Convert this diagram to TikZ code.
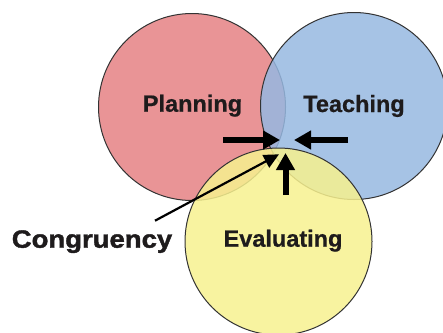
\documentclass[tikz,border=0pt]{standalone}
\usepackage{fontspec}
\setmainfont{Liberation Sans}
\newfontfamily\labelfont{Liberation Sans}[BoldFeatures={FakeBold=0.7}]
\newfontfamily\congfont{Liberation Sans}[FakeStretch=1.1, BoldFeatures={FakeBold=1.6}]
\usetikzlibrary{arrows.meta}

\definecolor{planred}{RGB}{229,129,132}
\definecolor{teachblue}{RGB}{150,184,225}
\definecolor{evalyellow}{RGB}{247,241,143}
\definecolor{inkdark}{RGB}{30,27,28}

\begin{document}
\begin{tikzpicture}[x=1pt,y=-1pt]
% Style definitions
\tikzset{
    area/.style={circle, draw=black!80, line width=1pt, minimum size=187pt,
                 inner sep=0pt, fill opacity=0.85},
    areatext/.style={anchor=base, inner sep=0pt, text=inkdark,
                     font=\labelfont\bfseries\fontsize{23.5}{28}\selectfont},
    pointer/.style={-{Triangle[length=17pt, width=18pt]}, line width=6pt, black},
    leader/.style={-{Triangle[length=15pt, width=14pt]}, line width=2.2pt, black}
}
\useasboundingbox (0,0) rectangle (443,332);

% The three circles
\node[area, fill=planred] (plan) at (192,107) {};
\node[area, fill=teachblue] (teach) at (354,106) {};
\node[area, fill=evalyellow] (eval) at (278.5,241.5) {};

% Labels
\node[areatext] (plantext) at (192.5,111.7) {Planning};
\node[areatext] (teachtext) at (354,112) {Teaching};
\node[areatext] (evaltext) at (283,246.7) {Evaluating};
\node[areatext, font=\congfont\bfseries\fontsize{25}{30}\selectfont] (cong) at (92,247.7) {Congruency};

% Arrow ends
\coordinate (planfrom) at (223,140);
\coordinate (planto) at (280,140);
\coordinate (teachfrom) at (348,140);
\coordinate (teachto) at (294,140);
\coordinate (evalfrom) at (285.5,195);
\coordinate (evalto) at (285.5,153);
\coordinate (congfrom) at (155,220.7);
\coordinate (congto) at (279,154.3);

% Arrows into the overlap
\draw[pointer] (planfrom) -- (planto);
\draw[pointer] (teachfrom) -- (teachto);
\draw[pointer] (evalfrom) -- (evalto);
\draw[leader] (congfrom) -- (congto);

\end{tikzpicture}
\end{document}
